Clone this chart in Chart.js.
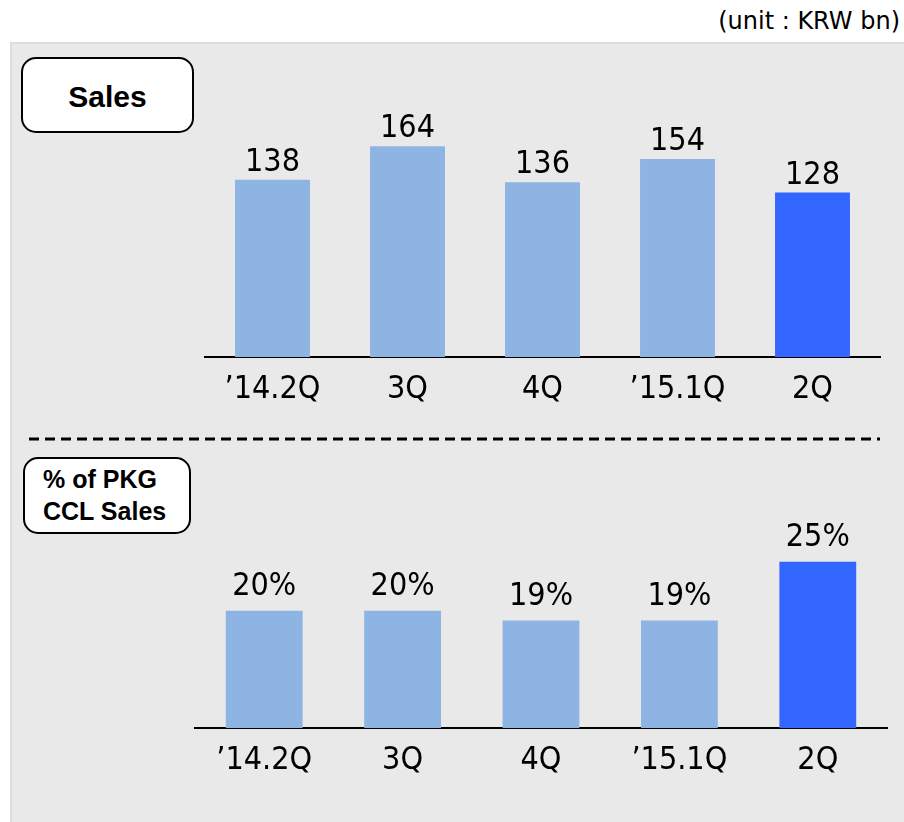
<!DOCTYPE html>
<html>
<head>
<meta charset="utf-8">
<script src="https://cdn.jsdelivr.net/npm/chart.js@4/dist/chart.umd.min.js"></script>
<style>
  html, body { margin: 0; padding: 0; background: #fff; width: 904px; height: 822px; overflow: hidden; position: relative;
    font-family: "DejaVu Sans", sans-serif; }
  .unit { position: absolute; right: 4px; top: 7px; font-size: 24px; color: #000; white-space: nowrap; }
  .panel { position: absolute; left: 10px; top: 42px; width: 894px; height: 780px; background: #e9e9e9;
    border-left: 2px solid #dddddd; border-top: 2px solid #dddddd; box-sizing: border-box; }
  .tag { position: absolute; background: #fff; border: 2px solid #000; border-radius: 15px; box-sizing: border-box;
    font-family: "Liberation Sans", Arial, sans-serif; font-weight: bold; color: #000; }
  #tagSales { left: 21px; top: 57px; width: 173px; height: 76px; font-size: 30px; padding-top: 3px;
    display: flex; align-items: center; justify-content: center; }
  #tagShare { left: 23px; top: 457px; width: 168px; height: 77px; font-size: 25px; line-height: 32px;
    padding: 4px 0 0 18px; }
  canvas { position: absolute; }
  #divider { position: absolute; left: 0; top: 0; }
</style>
</head>
<body>
<div class="unit">(unit : KRW bn)</div>
<div class="panel"></div>
<svg id="divider" width="904" height="822">
  <line x1="29" y1="439" x2="880" y2="439" stroke="#000" stroke-width="3" stroke-dasharray="10 6"></line>
</svg>
<div class="tag" id="tagSales">Sales</div>
<div class="tag" id="tagShare">% of PKG<br>CCL Sales</div>
<canvas id="salesChart" width="720" height="327" style="left:180px; top:90px;"></canvas>
<canvas id="shareChart" width="720" height="285" style="left:180px; top:503px;"></canvas>

<script>
// Quarter labels and values
const categories = ['’14.2Q', '3Q', '4Q', '’15.1Q', '2Q'];
const salesValues = [138, 164, 136, 154, 128];   // KRW bn
const shareValues = [20, 20, 19, 19, 25];        // % of PKG CCL sales

const LIGHT_BLUE = '#8EB4E3';
const STRONG_BLUE = '#3366FF';
const LABEL_FAMILY = '"DejaVu Sans Condensed", "DejaVu Sans", sans-serif';

// Writes each bar's value just above the bar
const valueLabels = {
  id: 'valueLabels',
  afterDatasetsDraw(chart, args, opts) {
    const { ctx } = chart;
    const meta = chart.getDatasetMeta(0);
    const values = chart.data.datasets[0].data;
    ctx.save();
    ctx.font = opts.size + 'px ' + LABEL_FAMILY;
    ctx.fillStyle = '#000';
    ctx.textAlign = 'center';
    ctx.textBaseline = 'alphabetic';
    meta.data.forEach((bar, i) => {
      ctx.fillText(values[i] + (opts.suffix || ''), bar.x, bar.y - opts.offset);
    });
    ctx.restore();
  }
};

function quarterBars(canvasId, values, yMin, yMax, padding, labelOpts) {
  const last = values.length - 1;
  return new Chart(document.getElementById(canvasId), {
    type: 'bar',
    data: {
      labels: categories,
      datasets: [{
        data: values,
        backgroundColor: values.map((v, i) => (i === last ? STRONG_BLUE : LIGHT_BLUE)),
        borderWidth: 0,
        barPercentage: 0.555,
        categoryPercentage: 1
      }]
    },
    options: {
      responsive: false,
      animation: false,
      devicePixelRatio: 1,
      layout: { padding: padding },
      plugins: {
        legend: { display: false },
        tooltip: { enabled: false },
        valueLabels: labelOpts
      },
      scales: {
        x: {
          grid: { display: false, drawTicks: false },
          border: { display: true, color: '#000', width: 2 },
          ticks: {
            color: '#000',
            font: { family: LABEL_FAMILY, size: 32 },
            padding: 13,
            maxRotation: 0,
            autoSkip: false
          },
          afterFit(scale) { scale.height = 60; }
        },
        y: { display: false, min: yMin, max: yMax }
      }
    },
    plugins: [valueLabels]
  });
}

quarterBars('salesChart', salesValues, 0, 200,
  { left: 25, right: 20, top: 10, bottom: 0 },
  { size: 32, offset: 9, suffix: '' });

quarterBars('shareChart', shareValues, 8, 30,
  { left: 15, right: 13, top: 10, bottom: 0 },
  { size: 32, offset: 16, suffix: '%' });
</script>
</body>
</html>
